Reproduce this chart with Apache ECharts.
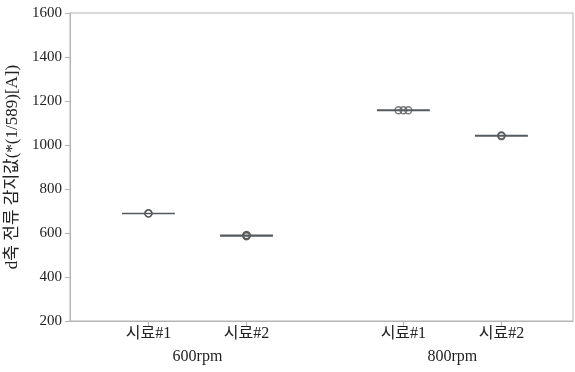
<!DOCTYPE html>
<html><head><meta charset="utf-8">
<script src="https://cdn.jsdelivr.net/npm/echarts@6/dist/echarts.min.js"></script>
<style>html,body{margin:0;padding:0;background:#fff}#c{width:575px;height:372px}</style>
</head><body><div id="c"></div>
<script>
var sampleLabels = ['시료#1', '시료#2', '시료#1', '시료#2'];
var groupLabels = ['600rpm', '800rpm'];
var samplePos = [0.8, 1.8, 3.4, 4.4];
var groupPos = [1.3, 3.9];
var s600_1 = [689, 689, 689];
var s600_2 = [585, 588, 591, 587, 589];
var s800_1 = [1158, 1158, 1158];
var s800_2 = [1040, 1044, 1042];
var yTicks = [200, 400, 600, 800, 1000, 1200, 1400, 1600];

var samples = [s600_1, s600_2, s800_1, s800_2];
var jitter = [0, 0, 0.05, 0];
var serif = '"Liberation Serif","Noto Sans CJK KR",serif';
var col = '#555a60';
var series = [];
samples.forEach(function (vals, i) {
  var mean = vals.reduce(function (a, b) { return a + b; }, 0) / vals.length;
  series.push({
    type: 'line', xAxisIndex: 0, symbol: 'none', silent: true,
    lineStyle: { color: col, width: i === 0 ? 1.5 : 2.2 },
    data: [[samplePos[i] - 0.27, mean], [samplePos[i] + 0.27, mean]], z: 2
  });
  series.push({
    type: 'scatter', xAxisIndex: 0, symbol: 'circle', symbolSize: 7,
    itemStyle: { color: 'rgba(0,0,0,0)', borderColor: '#5a5a5a', borderWidth: 1.3 },
    data: vals.map(function (v, k) {
      var off = jitter[i] ? (k - (vals.length - 1) / 2) * jitter[i] : 0;
      return [samplePos[i] + off, v];
    }), z: 3
  });
});
var chart = echarts.init(document.getElementById('c'));
chart.setOption({
  animation: false,
  grid: { left: 70, right: 2, top: 13, bottom: 51, outerBoundsMode: 'none', containLabel: false, show: true, borderColor: '#b4b4b4', borderWidth: 1 },
  xAxis: [{
    type: 'value', min: 0, max: 5.13, position: 'bottom',
    axisLine: { show: true, lineStyle: { color: '#b4b4b4' } },
    splitLine: { show: false },
    axisTick: { show: true, customValues: samplePos, length: 5, inside: false, lineStyle: { color: '#b4b4b4' } },
    axisLabel: {
      customValues: samplePos, margin: 5, color: '#222', fontFamily: serif, fontSize: 16,
      formatter: function (v) { var i = samplePos.indexOf(v); return i >= 0 ? sampleLabels[i] : ''; }
    }
  }, {
    type: 'value', min: 0, max: 5.13, position: 'bottom', offset: 22,
    axisLine: { show: false }, axisTick: { show: false }, splitLine: { show: false },
    axisLabel: {
      customValues: groupPos, margin: 6, color: '#222', fontFamily: serif, fontSize: 16,
      formatter: function (v) { var i = groupPos.indexOf(v); return i >= 0 ? groupLabels[i] : ''; }
    }
  }],
  yAxis: {
    type: 'value', min: 200, max: 1600, interval: 200,
    name: 'd축 전류 감지값(*(1/589)[A])', nameLocation: 'middle', nameGap: 43,
    nameTextStyle: { color: '#222', fontFamily: serif, fontSize: 17 },
    axisLine: { show: true, lineStyle: { color: '#b4b4b4' } },
    axisTick: { show: true, length: 5, lineStyle: { color: '#b4b4b4' } },
    splitLine: { show: false },
    axisLabel: { color: '#222', fontFamily: serif, fontSize: 15, margin: 8,
      customValues: yTicks, formatter: function (v) { return String(v); } }
  },
  series: series
});
</script></body></html>
